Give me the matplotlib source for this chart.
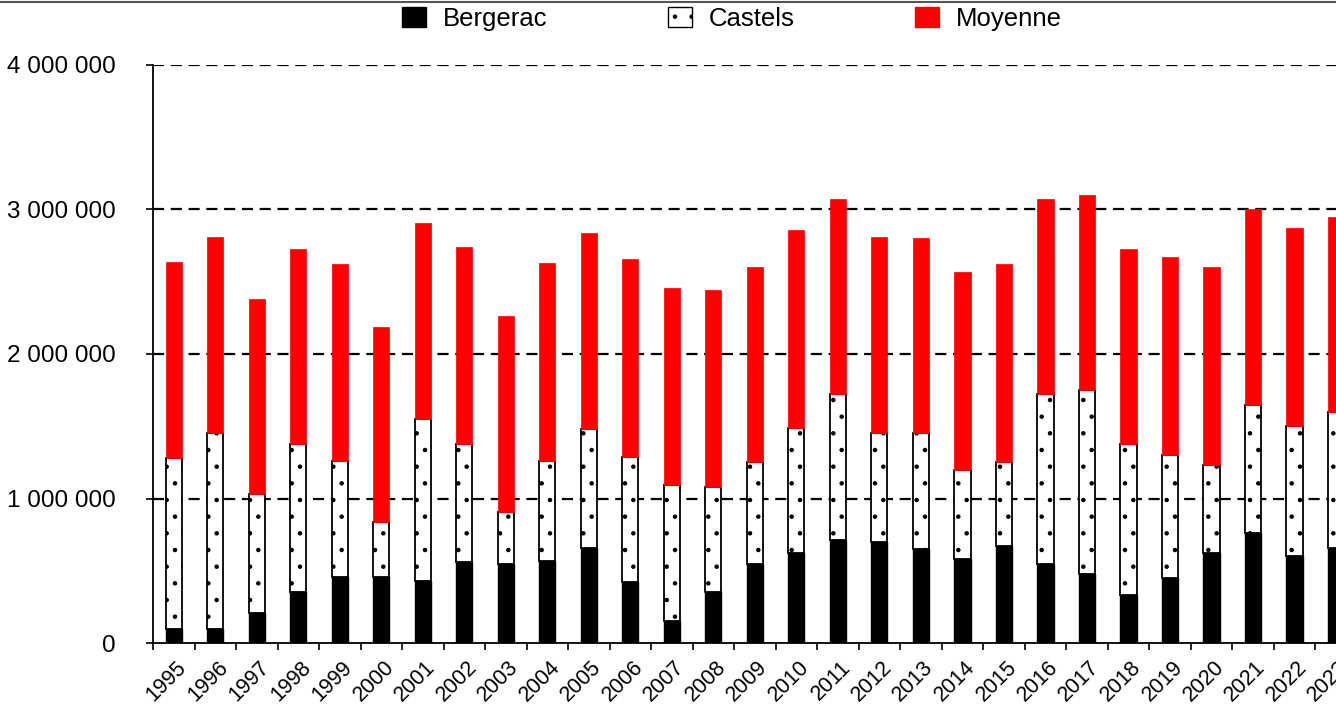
import numpy as np
import matplotlib
matplotlib.use("Agg")
import matplotlib.pyplot as plt
from matplotlib.patches import Patch
from matplotlib.lines import Line2D
from matplotlib.ticker import FuncFormatter
import matplotlib.transforms as mtransforms

plt.rcParams['font.family'] = ['Liberation Sans', 'DejaVu Sans']
plt.rcParams['hatch.linewidth'] = 0.8

# valeurs (en millions)
annees = [str(a) for a in range(1995, 2024)]
bergerac = [0.10, 0.10, 0.21, 0.35, 0.46, 0.46, 0.43, 0.56, 0.55, 0.57,
            0.66, 0.42, 0.15, 0.35, 0.55, 0.62, 0.71, 0.70, 0.65, 0.58,
            0.67, 0.55, 0.48, 0.33, 0.45, 0.62, 0.76, 0.60, 0.66]
castels = [1.18, 1.35, 0.82, 1.03, 0.80, 0.38, 1.12, 0.82, 0.36, 0.69,
           0.82, 0.87, 0.94, 0.73, 0.70, 0.87, 1.01, 0.75, 0.80, 0.62,
           0.58, 1.17, 1.27, 1.05, 0.85, 0.61, 0.89, 0.90, 0.94]
moyenne = [1.36, 1.36, 1.35, 1.35, 1.36, 1.35, 1.36, 1.36, 1.35, 1.37,
           1.36, 1.37, 1.37, 1.36, 1.35, 1.37, 1.35, 1.36, 1.35, 1.37,
           1.37, 1.35, 1.35, 1.35, 1.37, 1.37, 1.35, 1.37, 1.35]

b = np.array(bergerac) * 1e6
c = np.array(castels) * 1e6
m = np.array(moyenne) * 1e6
x = np.arange(len(annees))
w = 0.39

fig = plt.figure(figsize=(13.36, 7.13), dpi=100)
ax = fig.add_axes([153 / 1336, 1 - 643 / 713, 1 - 153 / 1336, (643 - 65) / 713])

for y in [1e6, 2e6, 3e6, 4e6]:
    ax.axhline(y, color='black', linestyle=(0, (5, 3)), linewidth=1.6, zorder=0)

ax.bar(x, b, width=w, color='black', edgecolor='black', linewidth=1, zorder=2)
ax.bar(x, c, width=w, bottom=b, facecolor='white', edgecolor='black',
       hatch='.', linewidth=1.3, zorder=2)
ax.bar(x, m, width=w, bottom=b + c, color='#ff0000', edgecolor='#ff0000',
       linewidth=0.5, zorder=2)

ax.set_yticks([0, 1e6, 2e6, 3e6, 4e6])
ax.yaxis.set_major_formatter(FuncFormatter(lambda v, p: f"{int(v):,}".replace(",", " ")))
ax.tick_params(axis='y', labelsize=17.5, length=5, width=1.2, pad=22)

ax.set_xticks(x)
ax.set_xticklabels(annees, rotation=45, ha='right', rotation_mode='anchor', fontsize=15.5)
ax.tick_params(axis='x', which='major', length=0, pad=10)
ax.set_xticks(np.arange(len(annees) + 1) - 0.5, minor=True)
ax.tick_params(axis='x', which='minor', length=5, width=1.2)
decal = mtransforms.ScaledTranslation(2 / 100, 0, fig.dpi_scale_trans)
for lab in ax.get_xticklabels():
    lab.set_transform(lab.get_transform() + decal)

ax.set_ylim(0, 4e6)
ax.set_xlim(-0.5, 28.0)

for s in ['top', 'right']:
    ax.spines[s].set_visible(False)
ax.spines['left'].set_linewidth(1.3)
ax.spines['bottom'].set_linewidth(1.3)

handles = [Patch(facecolor='black', edgecolor='black'),
           Patch(facecolor='white', edgecolor='black', hatch='.'),
           Patch(facecolor='#ff0000', edgecolor='#ff0000')]
fig.legend(handles, ['Bergerac', 'Castels', 'Moyenne'], loc='center',
           bbox_to_anchor=(732 / 1336, 1 - 19 / 713), ncol=3, frameon=False,
           fontsize=18.5, handlelength=0.93, handleheight=0.85,
           handletextpad=0.66, columnspacing=4.7)

fig.add_artist(Line2D([0, 1], [1 - 2 / 713, 1 - 2 / 713], color='#555555', linewidth=1.5))

fig.savefig("out.png", dpi=100)
